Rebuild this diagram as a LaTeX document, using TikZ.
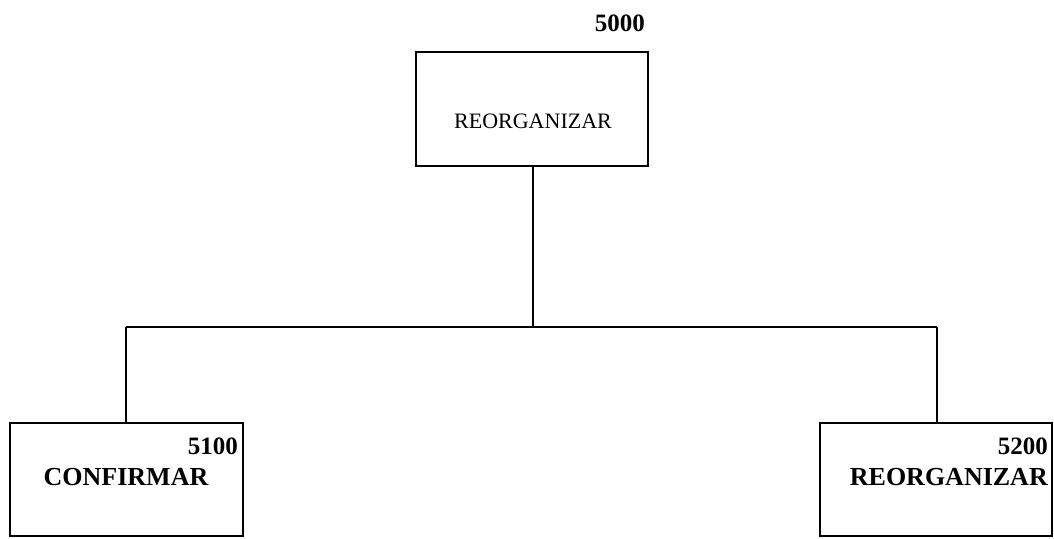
\documentclass[tikz,border=0pt]{standalone}
\usepackage{fontspec}
\setmainfont{Liberation Serif}
\begin{document}
\begin{tikzpicture}[x=1pt,y=-1pt,
  box/.style={draw, line width=1.6pt, inner sep=0pt},
  link/.style={line width=1.6pt},
  num/.style={font=\fontsize{25}{28}\selectfont\bfseries, inner sep=0pt},
  lbl/.style={font=\fontsize{26}{30}\selectfont\bfseries, inner sep=0pt},
  toplbl/.style={font=\fontsize{22}{26}\selectfont, inner sep=0pt}]
\useasboundingbox (0,0) rectangle (1054,538);
% boxes
\node[box, minimum width=232pt, minimum height=114pt] (top) at (532,109) {};
\node[box, minimum width=233pt, minimum height=113pt] (left) at (126.5,479.5) {};
\node[box, minimum width=232pt, minimum height=113pt] (right) at (936,479.5) {};
% texts
\node[num, anchor=east] (n5000) at (645,23) {5000};
\node[toplbl] (ttop) at (533,121) {REORGANIZAR};
\node[num, anchor=east] (n5100) at (238,446) {5100};
\node[lbl] (tleft) at (126,477) {CONFIRMAR};
\node[num, anchor=east] (n5200) at (1048,446) {5200};
\node[lbl, anchor=east] (tright) at (1048,477) {REORGANIZAR};
% connectors
\coordinate (junc) at (533,327);
\coordinate (jl) at (126,327);
\coordinate (jr) at (937,327);
\draw[link] (top.south -| junc) -- (junc);
\draw[link] (jl) -- (jr);
\draw[link] (jl) -- (jl |- left.north);
\draw[link] (jr) -- (jr |- right.north);
\end{tikzpicture}
\end{document}
